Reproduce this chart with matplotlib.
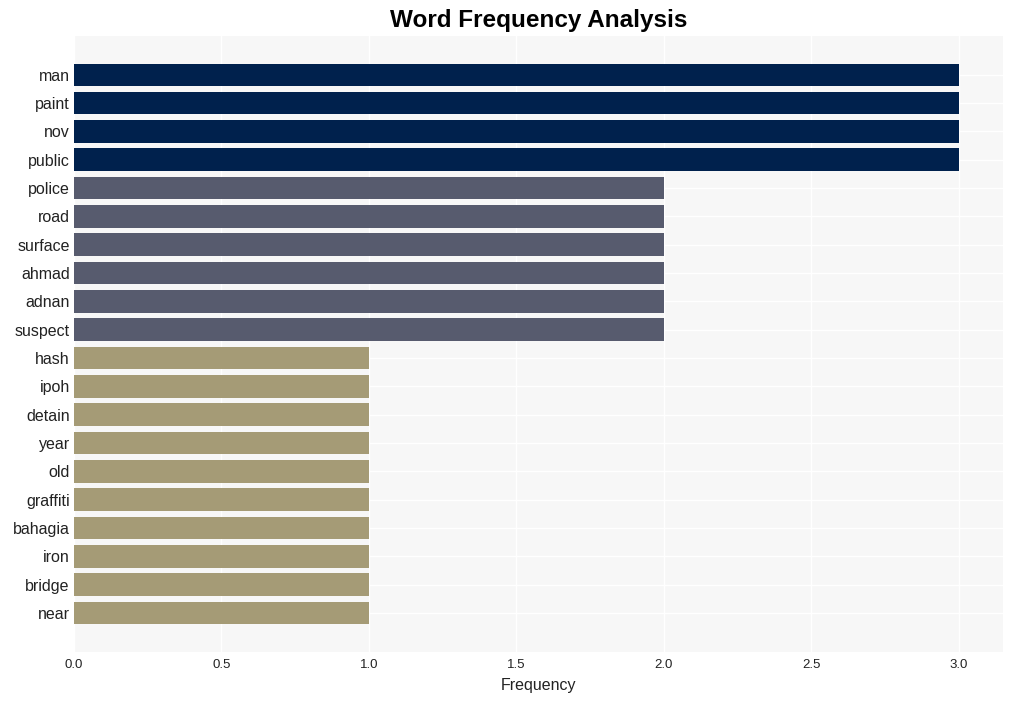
import matplotlib
matplotlib.use("Agg")
import matplotlib.pyplot as plt

plt.rcParams["font.family"] = ["Liberation Sans", "DejaVu Sans"]

words = ["man", "paint", "nov", "public", "police", "road", "surface", "ahmad",
         "adnan", "suspect", "hash", "ipoh", "detain", "year", "old", "graffiti",
         "bahagia", "iron", "bridge", "near"]
counts = [3, 3, 3, 3, 2, 2, 2, 2, 2, 2, 1, 1, 1, 1, 1, 1, 1, 1, 1, 1]
colour_by_count = {3: "#00214d", 2: "#575b6e", 1: "#a59b76"}

fig = plt.figure(figsize=(10.14, 7.01), dpi=100)
ax = fig.add_axes([0.073, 0.07, 0.916, 0.879])
ax.set_facecolor("#f7f7f7")

ypos = list(range(len(words)))
ax.barh(ypos, counts, height=0.8, color=[colour_by_count[c] for c in counts], zorder=3)

ax.set_yticks(ypos)
ax.set_yticklabels(words, fontsize=11.5, color="#222222")
ax.set_ylim(len(words) - 1 + 1.38, -1.38)
ax.set_xlim(0, 3.15)
ax.set_xticks([0, 0.5, 1.0, 1.5, 2.0, 2.5, 3.0])
ax.tick_params(axis="x", labelsize=9.5, length=0, pad=5, labelcolor="#222222")
ax.tick_params(axis="y", length=0, pad=3)
ax.grid(color="white", linewidth=1, zorder=0)
for s in ax.spines.values():
    s.set_visible(False)

ax.set_xlabel("Frequency", fontsize=11.5, color="#222222", labelpad=5)
ax.set_title("Word Frequency Analysis", fontsize=17.5, fontweight="bold", pad=6)

fig.savefig("out.png", dpi=100)
